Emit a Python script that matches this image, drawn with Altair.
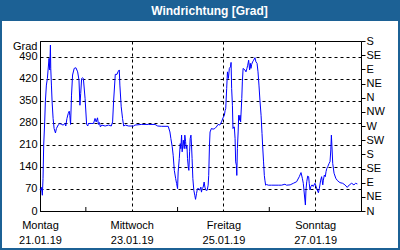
import altair as alt
import pandas as pd

# hours since Monday 21.01.2019 00:00 (UTC) and wind direction in degrees
HOURS = [0.0, 0.35, 0.8, 1.23, 1.58, 1.93, 2.46, 2.81, 3.34, 3.87, 4.22, 4.75, 5.1, 5.45, 5.63, 5.98,
         6.33, 6.86, 7.38, 8.09, 8.6, 9.5, 10.4, 11.25, 12.1, 13.0, 13.5, 14.1, 14.8, 15.3, 15.6, 16.0,
         16.5, 17.05, 17.9, 18.8, 19.7, 20.4, 20.9, 21.3, 21.8, 22.3, 22.7, 23.6, 24.4, 25.0, 25.3, 27.1,
         28.0, 28.8, 29.4, 30.1, 30.6, 31.1, 31.6, 32.3, 34.1, 35.9, 37.3, 38.0, 38.5, 39.4, 40.3, 40.8,
         41.5, 41.8, 42.5, 43.2, 43.8, 44.7, 46.4, 49.0,
         49.7, 53.2, 56.7, 60.2, 61.6, 63.7, 67.1, 68.0, 68.5, 69.2, 69.7, 70.3, 71.0, 71.5, 72.0, 72.3,
         72.9, 73.4, 73.7, 74.1, 74.4, 75.0, 75.5, 75.8, 76.2, 76.5, 76.9, 77.2, 77.6, 77.9, 78.3, 78.6,
         79.0, 79.3, 79.6, 80.0, 80.5, 81.0, 81.4, 81.9, 82.4, 83.1, 83.6, 84.2, 84.5, 84.9, 85.4, 85.9,
         86.3, 86.8, 87.5, 88.0, 88.3, 88.7, 89.0, 89.7, 90.6, 91.5, 92.3, 93.2, 94.1, 95.0, 95.8,
         96.5, 96.9, 97.2, 97.7, 98.1, 98.6, 99.1, 99.7, 100.0, 100.3, 100.7, 101.0, 101.4, 101.7, 102.1,
         102.4, 102.8, 103.0, 103.3, 103.7, 104.0, 104.3, 104.7, 105.0, 105.6, 105.9, 106.3, 106.8, 107.3,
         107.8, 108.3, 108.7, 109.2, 109.7, 110.1, 110.4, 110.8, 111.3, 111.8, 112.5, 113.0, 113.6, 114.1,
         114.6, 115.1, 115.7, 116.2, 116.5, 117.0, 117.4, 117.7, 118.1, 118.6, 119.5, 121.2, 123.0, 124.7,
         126.4, 128.2, 129.0, 130.9,
         132.6, 134.3, 135.7, 136.6, 137.3, 137.8, 138.9, 139.2, 139.6, 140.1, 140.6, 140.9, 141.3, 141.8,
         142.4, 143.0, 143.9, 144.5, 145.1, 145.7, 146.2, 146.9, 147.4, 148.0, 148.3, 148.8, 149.3, 149.7,
         150.1, 150.6, 151.3, 151.8, 152.2, 152.5, 152.8, 153.2, 153.9, 154.8, 155.6, 157.0, 158.4, 159.6,
         160.8, 161.9, 163.1, 164.3, 165.2, 166.1]
VALUES = [70, 66, 75, 50, 103, 209, 283, 347, 400, 421, 448, 485, 448, 527, 453, 400,
          347, 294, 262, 248, 262, 273, 278, 275, 273, 278, 270, 294, 310, 317, 304, 275,
          368, 432, 453, 455, 442, 416, 336, 373, 421, 423, 421, 357, 275, 270, 278, 278,
          278, 294, 283, 296, 275, 281, 267, 273, 270, 273, 270, 283, 347, 434, 434, 442,
          448, 400, 331, 294, 270, 273, 270, 270,
          273, 275, 275, 275, 270, 269, 269, 251, 230, 204, 177, 129, 103, 87, 71, 124,
          167, 214, 198, 241, 188, 225, 198, 241, 220, 198, 209, 167, 140, 129, 188, 230,
          241, 209, 167, 103, 66, 50, 37, 55, 71, 71, 66, 76, 60, 71, 76, 92,
          76, 66, 66, 82, 113, 209, 251, 262, 260, 262, 267, 275, 273, 283, 296,
          304, 320, 325, 389, 442, 421, 453, 458, 472, 389, 336, 262, 267, 267, 230,
          156, 145, 113, 198, 251, 304, 288, 304, 283, 357, 410, 453, 450, 448,
          442, 453, 463, 479, 448, 469, 453, 466, 474, 479, 487, 474, 469, 442,
          400, 352, 304, 246, 209, 156, 113, 98, 82, 84, 82, 82, 82, 82,
          82, 85, 82, 83,
          88, 93, 109, 122, 104, 88, 19, 67, 93, 111, 109, 88, 67, 78,
          83, 78, 88, 78, 67, 58, 72, 98, 109, 83, 98, 114, 109, 125,
          135, 141, 151, 157, 194, 241, 204, 151, 120, 104, 97, 90, 88, 83,
          75, 83, 88, 83, 88, 86]

DAY_TICKS = ["2019-01-22", "2019-01-24", "2019-01-26"]
LEFT_TICKS = [0, 70, 140, 210, 280, 350, 420, 490]
RIGHT_TICKS = [0, 45, 90, 135, 180, 225, 270, 315, 360, 405, 450, 495, 540]
COMPASS = ["N", "NE", "E", "SE", "S", "SW", "W", "NW"]
WEEKDAYS = ["Sonntag", "Montag", "Dienstag", "Mittwoch", "Donnerstag", "Freitag", "Samstag"]
TITLE = "Windrichtung [Grad]"

start = pd.Timestamp("2019-01-21")
df = pd.DataFrame({
    "t": [(start + pd.Timedelta(hours=h)).strftime("%Y-%m-%dT%H:%M:%SZ") for h in HOURS],
    "v": VALUES,
})
ticks_df = pd.DataFrame({"t": [d + "T00:00:00Z" for d in DAY_TICKS]})

FONT = "Liberation Sans"
BLUE = "#1c6195"

xscale = alt.Scale(type="utc",
                   domain=[alt.DateTime(year=2019, month=1, date=21, utc=True),
                           alt.DateTime(year=2019, month=1, date=28, utc=True)])
yscale = alt.Scale(domain=[0, 540], nice=False, zero=True)

names = "[" + ",".join("'%s'" % n for n in WEEKDAYS) + "]"
compass = "[" + ",".join("'%s'" % n for n in COMPASS) + "]"

xaxis = alt.Axis(
    values=[alt.DateTime(year=2019, month=1, date=d, utc=True) for d in [21, 23, 25, 27]],
    labelExpr="[" + names + "[utcday(datum.value)], utcFormat(datum.value, '%d.%m.%y')]",
    title=None, ticks=False, domain=True, domainColor="black",
    grid=True, gridColor="black", gridDash=[3, 3], gridOpacity=1,
    labelFont=FONT, labelFontSize=11, labelColor="black", labelPadding=8,
    labelLineHeight=15, labelBaseline="top", labelFlush=False, labelOverlap=False,
)

yleft = alt.Axis(
    values=LEFT_TICKS, title="Grad", titleAngle=0, titleAlign="right", titleBaseline="middle",
    titleX=-3, titleY=5, titleFont=FONT, titleFontSize=11, titleFontWeight="normal", titleColor="black",
    ticks=False, labelPadding=3, labelFont=FONT, labelFontSize=11, labelColor="black",
    domainColor="black", grid=True, gridColor="black", gridDash=[3, 3], gridOpacity=1,
)

yright = alt.Axis(
    orient="right", values=RIGHT_TICKS, title=None,
    labelExpr=compass + "[(datum.value / 45) % 8]",
    ticks=True, tickSize=4, tickColor="black", labelPadding=1,
    labelFont=FONT, labelFontSize=11, labelColor="black", domainColor="black", grid=False,
)

line = alt.Chart(df).mark_line(color="#0000ff", strokeWidth=1).encode(
    x=alt.X("t:T", scale=xscale, axis=xaxis),
    y=alt.Y("v:Q", scale=yscale, axis=yleft),
)

line_right = alt.Chart(df).mark_line(opacity=0).encode(
    x=alt.X("t:T", scale=xscale, axis=xaxis),
    y=alt.Y("v:Q", scale=yscale, axis=yright),
)

inner_ticks = alt.Chart(ticks_df).mark_rule(color="black", strokeWidth=1).encode(
    x=alt.X("t:T", scale=xscale, axis=xaxis),
    y=alt.value(166),
    y2=alt.value(170),
)

one = pd.DataFrame({"a": [0]})
title_bar = alt.Chart(one).mark_rect(color=BLUE).encode(
    x=alt.value(-40), x2=alt.value(360), y=alt.value(-41), y2=alt.value(-20),
)
border = alt.Chart(one).mark_rect(filled=False, stroke=BLUE, strokeWidth=2).encode(
    x=alt.value(-39), x2=alt.value(359), y=alt.value(-30), y2=alt.value(208),
)
title_text = alt.Chart(one).mark_text(
    color="white", font=FONT, fontSize=12, fontWeight="bold", align="center", baseline="middle",
).encode(x=alt.value(169.5), y=alt.value(-30.5), text=alt.value(TITLE))

chart = alt.layer(line, line_right, inner_ticks, border, title_bar, title_text).resolve_axis(
    y="independent"
).properties(
    width=321, height=170,
    autosize=alt.AutoSizeParams(type="none"),
    padding={"left": 40, "top": 41, "right": 39, "bottom": 39},
    background="white",
).configure_view(stroke="black", strokeWidth=1)

chart.save("out.html", embed_options={"renderer": "svg", "actions": False})
